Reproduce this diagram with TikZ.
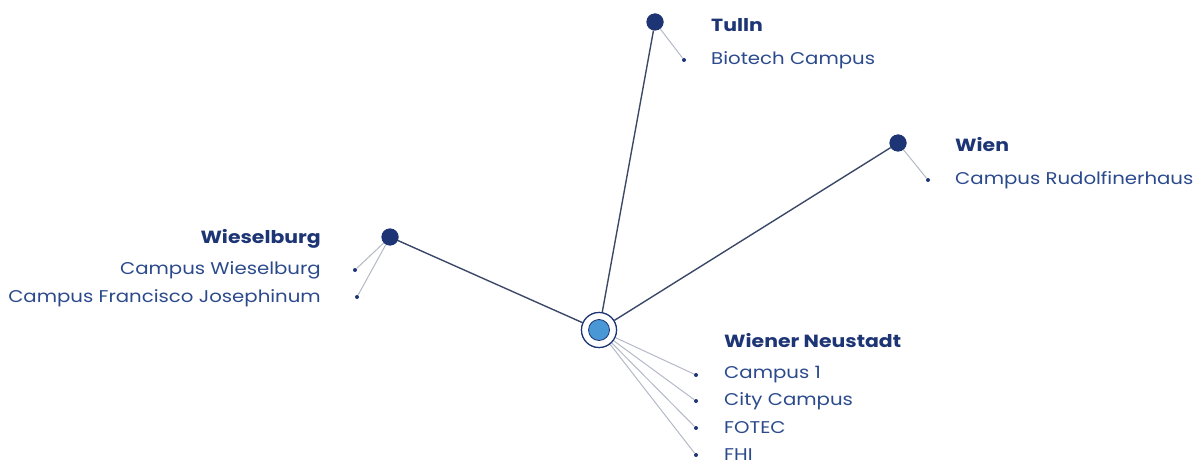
\documentclass[tikz,border=0pt]{standalone}
\usepackage{fontspec}
\setmainfont{Poppins}[FakeStretch=1.16]
\definecolor{navy}{HTML}{1D3475}
\definecolor{txt}{HTML}{2B4A8C}
\definecolor{mainline}{HTML}{3B4868}
\definecolor{thin}{HTML}{B4B9C8}
\definecolor{hubfill}{HTML}{4A97D6}
\begin{document}
\begin{tikzpicture}[x=1pt,y=-1pt,
  city/.style={circle,fill=navy,minimum size=17pt,inner sep=0pt},
  bul/.style={circle,fill=navy,minimum size=4pt,inner sep=0pt},
  hubout/.style={circle,draw=navy,line width=1.2pt,fill=white,minimum size=35pt,inner sep=0pt},
  hubin/.style={circle,draw=navy,line width=0.8pt,fill=hubfill,minimum size=21pt,inner sep=0pt},
  mline/.style={draw=mainline,line width=1.4pt},
  tline/.style={draw=thin,line width=1pt},
  head/.style={font=\fontsize{17.6}{19}\selectfont\bfseries,text=navy,inner sep=0pt},
  sub/.style={font=\fontsize{17}{19}\selectfont,text=txt,inner sep=0pt}]
\useasboundingbox (0,0) rectangle (1201,465);
% hub and city nodes
\node (hub) [hubout] at (599,330) {};
\node (tulln) [city] at (655,22) {};
\node (wien) [city] at (898,143) {};
\node (wies) [city] at (390,237) {};
% bullets
\node (b1) [bul] at (684,60) {};
\node (b2) [bul] at (928,180) {};
\node (b3) [bul] at (355,270) {};
\node (b4) [bul] at (357,297) {};
\node (n1) [bul] at (696,375) {};
\node (n2) [bul] at (696,401) {};
\node (n3) [bul] at (696,428) {};
\node (n4) [bul] at (696,455) {};
% main lines
\path[mline] (hub) -- (tulln);
\path[mline] (hub) -- (wien);
\path[mline] (hub) -- (wies);
% thin lines
\path[tline] (tulln) -- (b1);
\path[tline] (wien) -- (b2);
\path[tline] (wies) -- (b3);
\path[tline] (wies) -- (b4);
\path[tline] (hub) -- (n1);
\path[tline] (hub) -- (n2);
\path[tline] (hub) -- (n3);
\path[tline] (hub) -- (n4);
% redraw nodes on top
\node [city] at (tulln) {};
\node [city] at (wien) {};
\node [city] at (wies) {};
\node [hubout] at (hub) {};
\node (hubc) [hubin] at (hub) {};
% labels
\node (lt) [head,anchor=west] at (711,25) {Tulln};
\node (lt1) [sub,anchor=west] at (711,60) {Biotech Campus};
\node (lw) [head,anchor=west] at (955,145) {Wien};
\node (lw1) [sub,anchor=west] at (955,180) {Campus Rudolfinerhaus};
\node (ls) [head,anchor=east] at (321,239) {Wieselburg};
\node (ls1) [sub,anchor=east] at (321,270) {Campus Wieselburg};
\node (ls2) [sub,anchor=east] at (321,298) {Campus Francisco Josephinum};
\node (ln) [head,anchor=west] at (724,341) {Wiener Neustadt};
\node (ln1) [sub,anchor=west] at (724,375) {Campus 1};
\node (ln2) [sub,anchor=west] at (724,401) {City Campus};
\node (ln3) [sub,anchor=west] at (724,428) {FOTEC};
\node (ln4) [sub,anchor=west] at (724,455) {FHI};
\end{tikzpicture}
\end{document}
